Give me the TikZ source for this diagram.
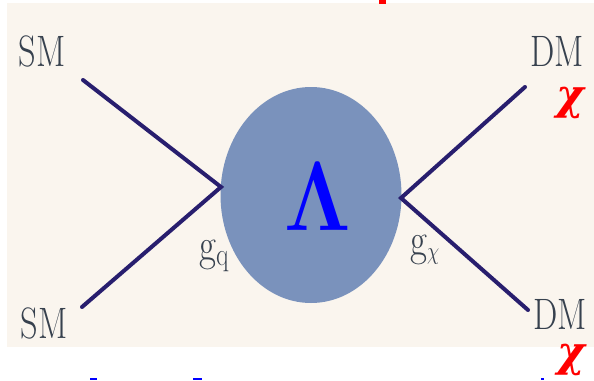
\documentclass[tikz,border=0pt]{standalone}
\usepackage{fontspec}
\usetikzlibrary{shapes.geometric}
\newfontfamily\chifont{DejaVu Serif}
\definecolor{panel}{RGB}{250,245,238}
\definecolor{blob}{RGB}{122,146,188}
\definecolor{leg}{RGB}{40,30,110}
\definecolor{lbl}{RGB}{55,65,78}
\tikzset{
  leg/.style={draw=leg, line width=4pt, line cap=round},
  lab/.style={text=lbl, inner sep=0pt, xscale=0.78, transform shape, font=\fontsize{44}{44}\selectfont},
  glab/.style={text=lbl, inner sep=0pt, xscale=0.8, transform shape, font=\fontsize{46}{46}\selectfont},
  chi/.style={text=red, inner sep=0pt, font=\chifont\bfseries\itshape\fontsize{42}{42}\selectfont},
}
\begin{document}
\begin{tikzpicture}[x=1pt,y=-1pt]
\useasboundingbox (0,0) rectangle (594,380);
\fill[white] (0,0) rectangle (594,380);
\fill[panel] (7,3) rectangle (594,347);
% cut-off fragments at edges
\fill[red] (379,0) rectangle (386,4);
\fill[blue] (90,378.3) rectangle (97,380);
\fill[blue] (193,378.3) rectangle (202,380);
\fill[blue] (541,377.5) rectangle (544,380);
% blob
\node[ellipse, fill=blob, minimum width=181pt, minimum height=216pt, inner sep=0pt] (blob) at (311,195) {};
\node[text=blue, inner sep=0pt, xscale=3.4, yscale=3.95, transform shape, font=\fontsize{24.88}{25}\selectfont\boldmath] (lam) at (318,196.5) {$\Lambda$};
% vertices and ends
\coordinate (vl) at (221,187);
\coordinate (vr) at (401,198);
\coordinate (e1) at (83,80);
\coordinate (e2) at (82,307);
\coordinate (e3) at (525,87);
\coordinate (e4) at (528,310);
\draw[leg] (e1) -- (vl) -- (e2);
\draw[leg] (e3) -- (vr) -- (e4);
% labels
\node[lab, anchor=base] (sm1) at (42,66) {SM};
\node[lab, anchor=base] (sm2) at (44,338) {SM};
\node[lab, anchor=base] (dm1) at (557,66) {DM};
\node[lab, anchor=base] (dm2) at (560,329) {DM};
\node[glab] (gq) at (214,256) {g$_{\mathrm{q}}$};
\node[glab] (gx) at (425,250) {g$_{\chi}$};
\node[chi] (chi1) at (570,103) {χ};
\node[chi] (chi2) at (571,360) {χ};
\end{tikzpicture}
\end{document}
